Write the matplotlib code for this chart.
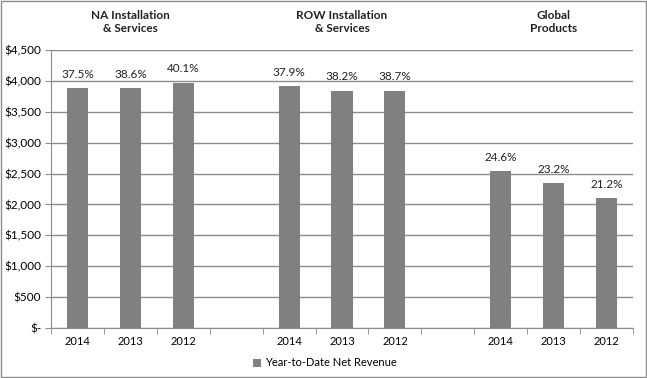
import matplotlib.pyplot as plt
import matplotlib.patches as mpatches
import numpy as np

# chart values
groups = ['NA Installation\n& Services', 'ROW Installation\n& Services', 'Global\nProducts']
years = ['2014', '2013', '2012']
revenue = [[3885, 3885, 3970],
           [3915, 3840, 3840],
           [2540, 2345, 2105]]
margins = [['37.5%', '38.6%', '40.1%'],
           ['37.9%', '38.2%', '38.7%'],
           ['24.6%', '23.2%', '21.2%']]

plt.rcParams['font.family'] = ['Lato', 'DejaVu Sans']
grey = '#808080'
line = '#8c8c8c'

fig = plt.figure(figsize=(6.47, 3.78), dpi=100)
ax = fig.add_axes([51 / 647, 50 / 378, (633 - 51) / 647, 278 / 378])

# categories with a blank slot between groups
labels = []
values = []
texts = []
for g in range(len(groups)):
    if g > 0:
        labels.append('')
        values.append(0)
        texts.append('')
    labels += years
    values += revenue[g]
    texts += margins[g]
x = np.arange(len(labels))

bars = ax.bar(x, values, width=0.4, color=grey, zorder=3,
              label='Year-to-Date Net Revenue')
for xi, v, t in zip(x, values, texts):
    if t:
        ax.annotate(t, (xi, v), xytext=(0, 10), textcoords='offset points',
                    ha='center', va='center', fontsize=8.5, color='#222222')

for g, name in enumerate(groups):
    ax.text(1 + g * 4, 1.10, name, transform=ax.get_xaxis_transform(),
            ha='center', va='center', fontsize=8.5, fontweight='bold',
            color='#222222', linespacing=1.25)

ax.set_xlim(-0.5, len(labels) - 0.5)
ax.set_ylim(0, 4500)
yt = np.arange(0, 4501, 500)
ax.set_yticks(yt)
ax.set_yticklabels(['$-'] + ['${:,}'.format(v) for v in yt[1:]])
ax.set_xticks(x)
ax.set_xticklabels(labels)
ax.set_xticks(np.arange(-0.5, len(labels)), minor=True)
ax.tick_params(axis='x', which='major', length=0, pad=6, labelsize=8)
ax.tick_params(axis='x', which='minor', length=4, color=line, direction='out')
ax.tick_params(axis='y', length=4, color=line, labelsize=8.5, pad=3)
ax.yaxis.grid(True, color=line, linewidth=1, zorder=0)
for s in ['top', 'right']:
    ax.spines[s].set_visible(False)
for s in ['left', 'bottom']:
    ax.spines[s].set_color(line)

ax.legend(loc='center', bbox_to_anchor=(325 / 647, 1 - 363 / 378),
          bbox_transform=fig.transFigure, frameon=False, fontsize=8,
          handlelength=0.7, handleheight=0.7, handletextpad=0.4)

fig.patches.append(mpatches.Rectangle((0.002, 0.002), 0.996, 0.995,
                                      transform=fig.transFigure, fill=False,
                                      edgecolor=line, linewidth=1))

fig.savefig('out.png', dpi=100)
